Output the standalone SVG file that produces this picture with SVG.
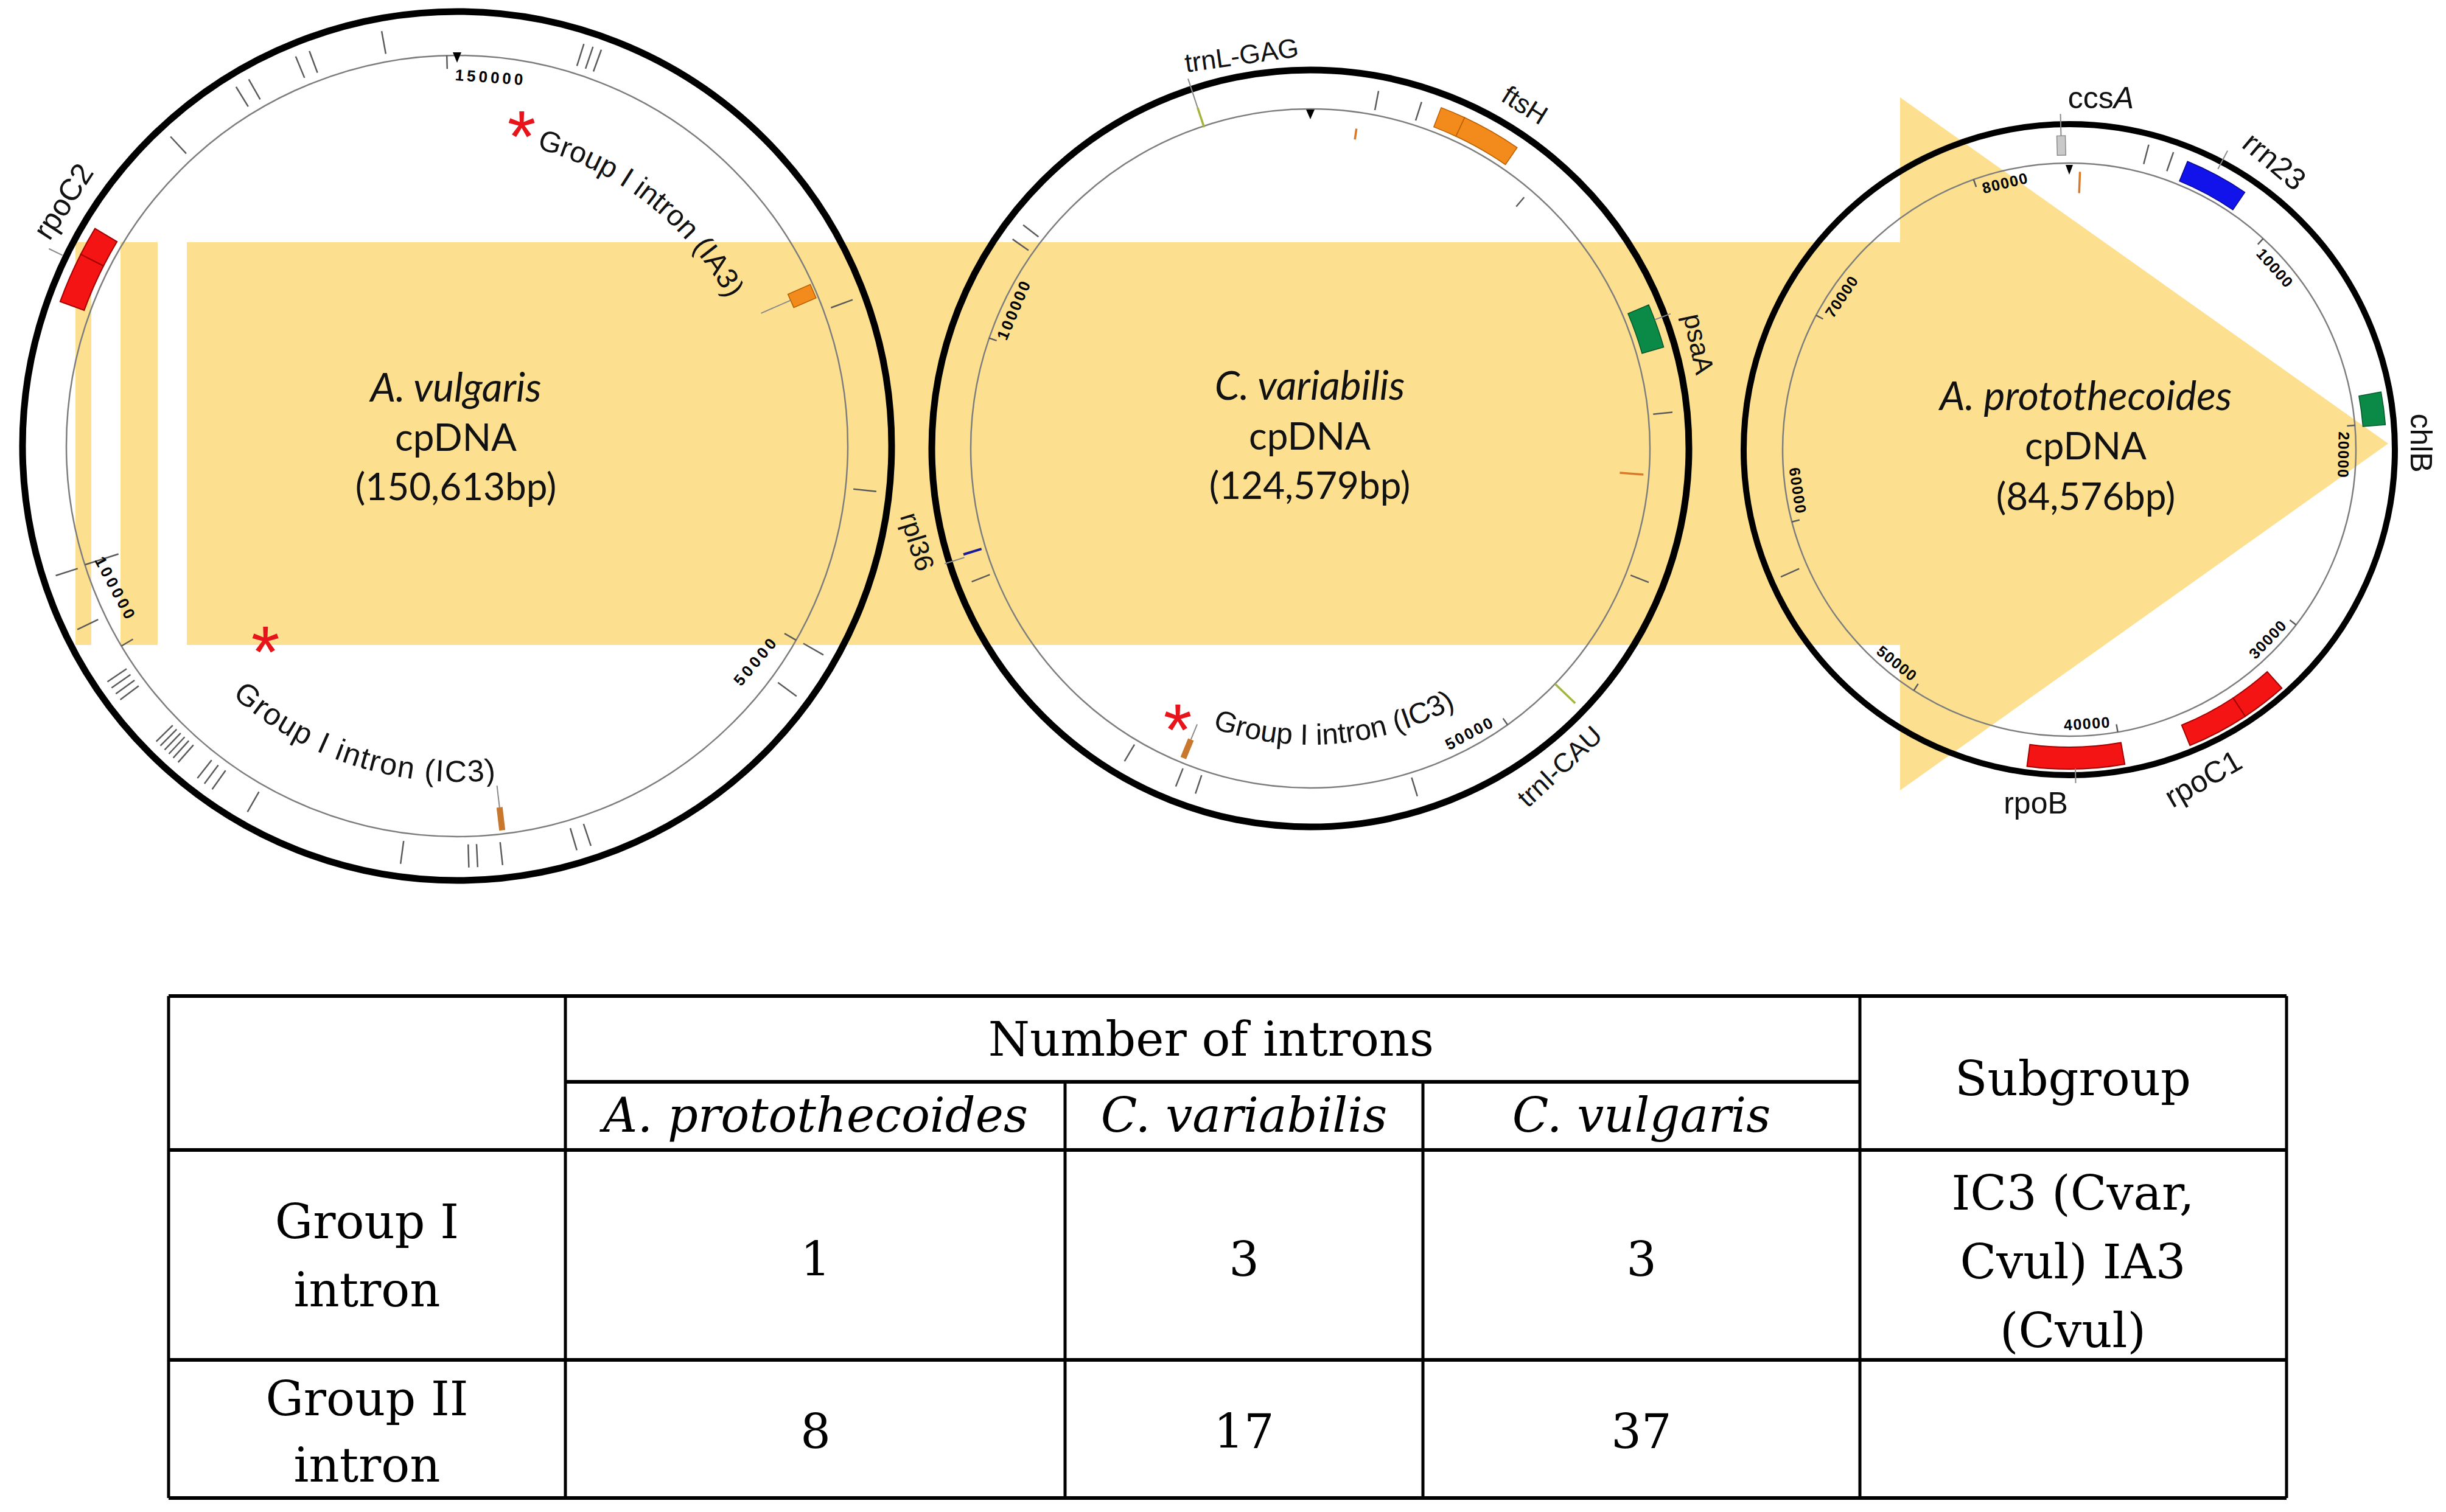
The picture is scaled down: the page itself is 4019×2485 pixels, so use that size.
<svg xmlns="http://www.w3.org/2000/svg" xmlns:xlink="http://www.w3.org/1999/xlink" width="4019" height="2485" viewBox="0 0 4019 2485">
<style>
.outer{fill:none;stroke:#000;stroke-width:11}
.inner{fill:none;stroke:#7d7d7d;stroke-width:2.5}
.tk{stroke:#5a5a5a;stroke-width:2.5}
.ld{stroke:#8a8a8a;stroke-width:2}
.sc{font-family:"Liberation Sans",Arial,sans-serif;font-weight:bold;font-size:26px;fill:#000;text-anchor:middle}
.gl{font-family:"Liberation Sans",Arial,sans-serif;font-size:46px;fill:#111;text-anchor:middle}
.it{font-family:"Liberation Sans",Arial,sans-serif;font-size:50px;fill:#111}
.ctr{font-family:Lato,"Open Sans",sans-serif;font-size:62px;fill:#111;text-anchor:middle}
.cti{font-style:italic;font-size:66px}
.ast{font-family:"Liberation Sans",Arial,sans-serif;font-size:120px;fill:#e8141c;text-anchor:middle}
.red{fill:#f51414;stroke:#a30000;stroke-width:2}
.org{fill:#f28a1c;stroke:#b85e00;stroke-width:1.5}
.grn{fill:#0b8a47;stroke:#05552a;stroke-width:1.5}
.blu{fill:#1212ea;stroke:#0a0a90;stroke-width:1.5}
.tri{fill:#000}
.band{fill:#fde08f}
.tl{stroke:#000;stroke-width:5}
.th{stroke:#000;stroke-width:6}
.tb{font-family:"DejaVu Serif",serif;font-size:78px;fill:#000;text-anchor:middle}
.tbi{font-style:italic}
</style>
<defs>
<line id="t1" y1="-655" y2="-693" class="tk"/>
<line id="t2" y1="-566" y2="-598" class="tk"/>
<line id="t3" y1="-485" y2="-518" class="tk"/>
<line id="s1" y1="-642" y2="-620" class="tk"/>
<line id="s2" y1="-558" y2="-545" class="tk"/>
<line id="s3" y1="-471" y2="-458" class="tk"/>
<path id="p1" d="M 870.0 241.2 A 506 506 0 0 1 1239.8 602.0"/>
<path id="p2" d="M 381.6 1143.2 A 552 552 0 0 0 939.8 1251.7"/>
<path id="p3" d="M 1975.3 1190.4 A 487 487 0 0 0 2466.0 1110.1"/>
</defs>

<g id="connectors">
<rect class="band" x="124" y="398" width="26" height="662"/>
<rect class="band" x="198" y="398" width="61" height="662"/>
<path class="band" d="M307,398 H3122 V160 L3924,729 L3122,1299 V1060 H307 Z"/>
</g>

<g id="node-a-vulgaris">
<g transform="translate(751,733)">
<circle class="inner" r="642"/>
<circle class="outer" r="714"/>
<use href="#t1" transform="rotate(-10.3)"/>
<use href="#t1" transform="rotate(-20.5)"/>
<use href="#t1" transform="rotate(-22.5)"/>
<use href="#t1" transform="rotate(-29.6)"/>
<use href="#t1" transform="rotate(-31.6)"/>
<use href="#t1" transform="rotate(-42.8)"/>
<use href="#t1" transform="rotate(17.5)"/>
<use href="#t1" transform="rotate(18.8)"/>
<use href="#t1" transform="rotate(20)"/>
<use href="#t1" transform="rotate(69.7)"/>
<use href="#t1" transform="rotate(96.2)"/>
<use href="#t1" transform="rotate(119.7)"/>
<use href="#t1" transform="rotate(126.4)"/>
<use href="#t1" transform="rotate(161.5)"/>
<use href="#t1" transform="rotate(163.5)"/>
<use href="#t1" transform="rotate(173.8)"/>
<use href="#t1" transform="rotate(177.2)"/>
<use href="#t1" transform="rotate(178.4)"/>
<use href="#t1" transform="rotate(-172.3)"/>
<use href="#t1" transform="rotate(-150.2)"/>
<use href="#t1" transform="rotate(-142)"/>
<use href="#t1" transform="rotate(-143.2)"/>
<use href="#t1" transform="rotate(-144.5)"/>
<use href="#t1" transform="rotate(-134.5)"/>
<use href="#t1" transform="rotate(-135.3)"/>
<use href="#t1" transform="rotate(-136.1)"/>
<use href="#t1" transform="rotate(-136.9)"/>
<use href="#t1" transform="rotate(-137.7)"/>
<use href="#t1" transform="rotate(-138.6)"/>
<use href="#t1" transform="rotate(-124)"/>
<use href="#t1" transform="rotate(-125)"/>
<use href="#t1" transform="rotate(-126)"/>
<use href="#t1" transform="rotate(-127)"/>
<use href="#t1" transform="rotate(-115.8)"/>
<use href="#t1" transform="rotate(-107.9)"/>
<line class="tk" y1="-584" y2="-642" transform="rotate(-107.7)"/>
<path class="red" transform="rotate(-66.5)" d="M-42.37,-692.70 A694,694 0 0 1 42.37,-692.70 L39.80,-650.78 A652,652 0 0 0 -39.80,-650.78 Z"/>
<path class="red" transform="rotate(-61)" d="M-24.22,-693.58 A694,694 0 0 1 24.22,-693.58 L22.75,-651.60 A652,652 0 0 0 -22.75,-651.60 Z"/>
<line class="ld" y1="-720" y2="-745" transform="rotate(-64.2)"/>
<rect class="org" x="-12" y="-638" width="24" height="40" transform="rotate(66.5)"/>
<line class="ld" y1="-545" y2="-598" transform="rotate(66.4)"/>
<rect x="-5" y="-636" width="10" height="38" fill="#c8782c" transform="rotate(173.3)"/>
<line class="ld" y1="-562" y2="-598" transform="rotate(173.3)"/>
<polygon class="tri" points="-7,-647 7,-647 0,-630"/>
<use href="#s1" transform="rotate(-1.5)"/>
<use href="#s1" transform="rotate(-120.8)"/>
<use href="#s1" transform="rotate(119.8)"/>
</g>
<text class="sc" style="letter-spacing:5px" transform="translate(806,127) rotate(4)" y="9">150000</text>
<text class="sc" style="letter-spacing:5px" transform="translate(190,968) rotate(62)" y="9">100000</text>
<text class="sc" style="letter-spacing:5px" transform="translate(1242,1086) rotate(-50)" y="9">50000</text>
<text class="ctr cti" x="749" y="660">A. vulgaris</text>
<text class="ctr" x="749" y="741">cpDNA</text>
<text class="ctr" x="749" y="822">(150,613bp)</text>
<text class="it" style="font-size:48px"><textPath href="#p1" startOffset="12">Group I intron (IA3)</textPath></text>
<text class="it" style="letter-spacing:2px"><textPath href="#p2">Group I intron (IC3)</textPath></text>
<text class="ast" x="857" y="266">*</text>
<text class="ast" x="436" y="1113">*</text>
<text class="gl" style="font-size:50px" transform="translate(104,331) rotate(-57)" y="17">rpoC2</text>
</g>

<g id="node-c-variabilis">
<g transform="translate(2153,737)">
<circle class="inner" r="558"/>
<circle class="outer" r="622"/>
<use href="#t2" transform="rotate(-54.9)"/>
<use href="#t2" transform="rotate(-52.1)"/>
<use href="#t2" transform="rotate(10.8)"/>
<use href="#t2" transform="rotate(17.8)"/>
<use href="#t2" transform="rotate(84.3)"/>
<use href="#t2" transform="rotate(111.6)"/>
<use href="#t2" transform="rotate(162.9)"/>
<use href="#t2" transform="rotate(-158.3)"/>
<use href="#t2" transform="rotate(-161.6)"/>
<use href="#t2" transform="rotate(-149.3)"/>
<use href="#t2" transform="rotate(-111.5)"/>
<line class="tk" y1="-522" y2="-542" transform="rotate(40.4)"/>
<line stroke="#d87a2a" stroke-width="3.5" y1="-513" y2="-531" transform="rotate(8.2)"/>
<line stroke="#d87a2a" stroke-width="3.5" y1="-510" y2="-549" transform="rotate(94.5)"/>
<line stroke="#a4b43c" stroke-width="3.5" y1="-556" y2="-590" transform="rotate(-18.3)"/>
<line class="ld" y1="-590" y2="-640" transform="rotate(-18.3)"/>
<line stroke="#a4b43c" stroke-width="3.5" y1="-558" y2="-604" transform="rotate(133.9)"/>
<line stroke="#1a1a9a" stroke-width="4" y1="-565" y2="-596" transform="rotate(-107)"/>
<line class="ld" y1="-596" y2="-630" transform="rotate(-107.5)"/>
<path class="org" transform="rotate(23)" d="M-20.94,-599.63 A600,600 0 0 1 20.94,-599.63 L19.75,-565.66 A566,566 0 0 0 -19.75,-565.66 Z"/>
<path class="org" transform="rotate(29.75)" d="M-49.68,-597.94 A600,600 0 0 1 49.68,-597.94 L46.87,-564.06 A566,566 0 0 0 -46.87,-564.06 Z"/>
<path class="grn" transform="rotate(70.5)" d="M-36.87,-602.87 A604,604 0 0 1 36.87,-602.87 L34.62,-565.94 A567,567 0 0 0 -34.62,-565.94 Z"/>
<line class="ld" y1="-604" y2="-632" transform="rotate(69.5)"/>
<rect x="-5" y="-550" width="10" height="33" fill="#c8782c" transform="rotate(-157.7)"/>
<line class="ld" y1="-490" y2="-517" transform="rotate(-157.7)"/>
<polygon class="tri" points="-7,-557 7,-557 0,-541"/>
<use href="#s2" transform="rotate(-71.03)"/>
<use href="#s2" transform="rotate(144.49)"/>
</g>
<text class="sc" style="letter-spacing:3px" transform="translate(1666,509) rotate(-67)" y="9">100000</text>
<text class="sc" style="letter-spacing:3px" transform="translate(2415,1205) rotate(-28)" y="9">50000</text>
<text class="ctr cti" x="2152" y="657">C. variabilis</text>
<text class="ctr" x="2152" y="739">cpDNA</text>
<text class="ctr" x="2152" y="820">(124,579bp)</text>
<text class="it" style="font-size:48px"><textPath href="#p3" startOffset="18">Group I intron (IC3)</textPath></text>
<text class="ast" x="1935" y="1241">*</text>
<text class="gl" style="font-size:44px" transform="translate(2040,90) rotate(-8)" y="16">trnL-GAG</text>
<text class="gl" style="font-size:44px" transform="translate(2506,172) rotate(32)" y="16">ftsH</text>
<text class="gl" style="font-size:44px" transform="translate(2792,565) rotate(78)" y="16">psaA</text>
<text class="gl" style="font-size:44px" transform="translate(1508,890) rotate(73)" y="16">rpl36</text>
<text class="gl" style="font-size:44px" transform="translate(2562,1259) rotate(-43)" y="16">trnI-CAU</text>
</g>

<g id="node-a-protothecoides">
<g transform="translate(3400,739)">
<circle class="inner" r="471"/>
<circle class="outer" r="535" style="stroke-width:10"/>
<use href="#t3" transform="rotate(14.6)"/>
<use href="#t3" transform="rotate(19.3)"/>
<use href="#t3" transform="rotate(-113.8)"/>
<rect x="-7" y="-516" width="14" height="32" fill="#c9c9c9" stroke="#8c8c8c" stroke-width="1.5" transform="rotate(-1.5)"/>
<line class="ld" y1="-516" y2="-552" transform="rotate(-1.5)"/>
<polygon class="tri" points="-6,-468 6,-468 0,-452"/>
<line stroke="#d87a2a" stroke-width="3.5" y1="-422" y2="-457" transform="rotate(2.2)"/>
<path class="blu" transform="rotate(28.3)" d="M-53.52,-509.20 A512,512 0 0 1 53.52,-509.20 L49.86,-474.39 A477,477 0 0 0 -49.86,-474.39 Z"/>
<line class="ld" y1="-522" y2="-556" transform="rotate(27.9)"/>
<path class="grn" transform="rotate(82.5)" d="M-27.27,-520.29 A521,521 0 0 1 27.27,-520.29 L25.33,-483.34 A484,484 0 0 0 -25.33,-483.34 Z"/>
<path class="red" transform="rotate(142.45)" d="M-37.99,-523.62 A525,525 0 0 1 37.99,-523.62 L35.39,-487.72 A489,489 0 0 0 -35.39,-487.72 Z"/>
<path class="red" transform="rotate(152.2)" d="M-51.23,-522.49 A525,525 0 0 1 51.23,-522.49 L47.72,-486.67 A489,489 0 0 0 -47.72,-486.67 Z"/>
<path class="red" transform="rotate(178.8)" d="M-80.32,-518.82 A525,525 0 0 1 80.32,-518.82 L74.81,-483.24 A489,489 0 0 0 -74.81,-483.24 Z"/>
<line class="ld" y1="-524" y2="-548" transform="rotate(178.9)"/>
<use href="#s3" transform="rotate(42.57)"/>
<use href="#s3" transform="rotate(85.13)"/>
<use href="#s3" transform="rotate(127.7)"/>
<use href="#s3" transform="rotate(170.26)"/>
<use href="#s3" transform="rotate(-147.17)"/>
<use href="#s3" transform="rotate(-104.6)"/>
<use href="#s3" transform="rotate(-62.04)"/>
<use href="#s3" transform="rotate(-19.5)"/>
<g class="sc" style="font-size:25px;letter-spacing:1.5px">
<text transform="rotate(48.57)" y="-442">10000</text>
<text transform="rotate(91.13)" y="-442">20000</text>
<text transform="rotate(-46.3)" y="460">30000</text>
<text transform="rotate(-3.74)" y="460">40000</text>
<text transform="rotate(38.83)" y="460">50000</text>
<text transform="rotate(81.4)" y="460">60000</text>
<text transform="rotate(-56.04)" y="-442">70000</text>
<text transform="rotate(-13.5)" y="-442">80000</text>
</g>
</g>
<text class="ctr cti" x="3427" y="674">A. protothecoides</text>
<text class="ctr" x="3427" y="755">cpDNA</text>
<text class="ctr" x="3427" y="838">(84,576bp)</text>
<text class="gl" style="font-size:50px" x="3452" y="178">ccs<tspan font-style="italic">A</tspan></text>
<text class="gl" style="font-size:50px" transform="translate(3737,265) rotate(40)" y="17">rrn23</text>
<text class="gl" style="font-size:50px" transform="translate(3978,728) rotate(90)" y="17">chlB</text>
<text class="gl" style="font-size:50px" x="3345" y="1337">rpoB</text>
<text class="gl" style="font-size:50px" transform="translate(3620,1280) rotate(-30)" y="17">rpoC1</text>
</g>

<g id="table">
<line class="th" x1="277" y1="1637" x2="3757" y2="1637"/>
<line class="th" x1="929" y1="1778" x2="3056" y2="1778"/>
<line class="th" x1="277" y1="1890" x2="3757" y2="1890"/>
<line class="th" x1="277" y1="2235" x2="3757" y2="2235"/>
<line class="th" x1="277" y1="2462" x2="3757" y2="2462"/>
<line class="tl" x1="277" y1="1637" x2="277" y2="2462"/>
<line class="tl" x1="929" y1="1637" x2="929" y2="2462"/>
<line class="tl" x1="1750" y1="1778" x2="1750" y2="2462"/>
<line class="tl" x1="2338" y1="1778" x2="2338" y2="2462"/>
<line class="tl" x1="3056" y1="1637" x2="3056" y2="2462"/>
<line class="tl" x1="3757" y1="1637" x2="3757" y2="2462"/>
<text class="tb" x="1990" y="1735">Number of introns</text>
<text class="tb" x="3406" y="1800">Subgroup</text>
<text class="tb tbi" x="1340" y="1860">A. protothecoides</text>
<text class="tb tbi" x="2044" y="1860">C. variabilis</text>
<text class="tb tbi" x="2697" y="1860">C. vulgaris</text>
<text class="tb" x="603" y="2035">Group I</text>
<text class="tb" x="603" y="2147">intron</text>
<text class="tb" x="1340" y="2097">1</text>
<text class="tb" x="2044" y="2097">3</text>
<text class="tb" x="2697" y="2097">3</text>
<text class="tb" x="3406" y="1988">IC3 (Cvar,</text>
<text class="tb" x="3406" y="2101">Cvul) IA3</text>
<text class="tb" x="3406" y="2214">(Cvul)</text>
<text class="tb" x="603" y="2326">Group II</text>
<text class="tb" x="603" y="2435">intron</text>
<text class="tb" x="1340" y="2380">8</text>
<text class="tb" x="2044" y="2380">17</text>
<text class="tb" x="2697" y="2380">37</text>
</g>
</svg>
